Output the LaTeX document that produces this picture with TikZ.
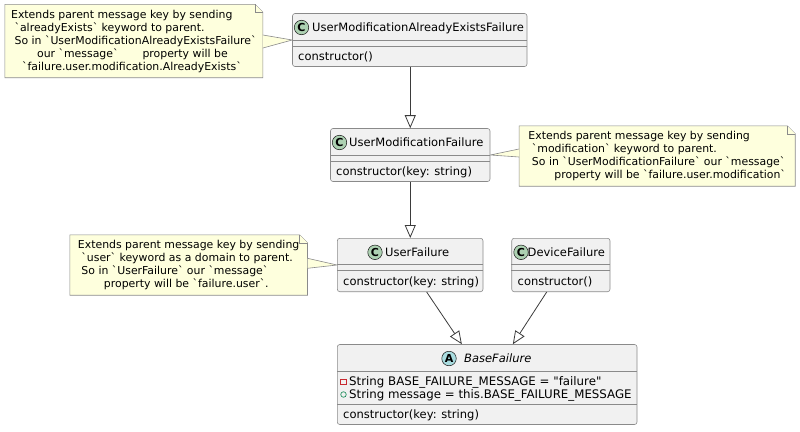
\documentclass[tikz,border=0pt]{standalone}
\usepackage{fontspec}
\newfontfamily\umlfont{DejaVu Sans}
\usetikzlibrary{arrows.meta, backgrounds}

\definecolor{classbg}{HTML}{F1F1F1}
\definecolor{umlline}{HTML}{181818}
\definecolor{boxline}{HTML}{8A8A8A}
\definecolor{notebg}{HTML}{FEFFDD}
\definecolor{spotC}{HTML}{ADD1B2}
\definecolor{spotA}{HTML}{A9DCDF}
\definecolor{privred}{HTML}{C82930}
\definecolor{pubgreen}{HTML}{038048}

\tikzset{
  umlclass/.style={draw=boxline, fill=classbg, line width=0.6pt, rounded corners=2.5pt, inner sep=0pt},
  compline/.style={draw=boxline, line width=0.6pt},
  spot/.style={circle, draw=umlline, line width=0.5pt, fill=spotC, minimum size=14.5pt, inner sep=0pt, font=\umlfont\bfseries\fontsize{11}{11}\selectfont},
  cname/.style={anchor=base west, inner sep=0pt, font=\umlfont\fontsize{11.5}{13}\selectfont},
  member/.style={anchor=base west, inner sep=0pt, font=\umlfont\fontsize{11.5}{13}\selectfont},
  privicon/.style={rectangle, draw=privred, line width=0.6pt, minimum size=5.5pt, inner sep=0pt},
  pubicon/.style={circle, draw=pubgreen, line width=0.6pt, minimum size=5.5pt, inner sep=0pt},
  umlnote/.style={inner xsep=5.5pt, inner ysep=0pt, align=left, font=\umlfont\fontsize{10.9}{13}\selectfont},
  notebody/.style={draw=boxline, fill=notebg, line width=0.6pt},
  inherit/.style={draw=umlline!85, line width=0.8pt, -{Triangle[open, length=13pt, width=11pt]}},
}

\begin{document}
\begin{tikzpicture}[x=1pt, y=-1pt]
\useasboundingbox (0,0) rectangle (800,431);

% classes
\node[umlclass, minimum width=234.5pt, minimum height=53pt] (umaef) at (409.75,40) {};
\draw[compline] (umaef.west |- 0,40.5) -- (umaef.east |- 0,40.5);
\draw[compline] (umaef.west |- 0,46.5) -- (umaef.east |- 0,46.5);
\node[spot] (umaefspot) at (301.5,27.5) {C};
\node[cname] (umaefname) at (312,31.7) {UserModificationAlreadyExistsFailure};
\node[member] (umaefctor) at (298,60.6) {constructor()};

\node[umlclass, minimum width=159.5pt, minimum height=53pt] (umf) at (410.25,155) {};
\draw[compline] (umf.west |- 0,155) -- (umf.east |- 0,155);
\draw[compline] (umf.west |- 0,161) -- (umf.east |- 0,161);
\node[spot] (umfspot) at (339.5,142.5) {C};
\node[cname] (umfname) at (349,146.7) {UserModificationFailure};
\node[member] (umfctor) at (336,175.3) {constructor(key: string)};

\node[umlclass, minimum width=145.7pt, minimum height=53.4pt] (userf) at (410.15,265) {};
\draw[compline] (userf.west |- 0,264.5) -- (userf.east |- 0,264.5);
\draw[compline] (userf.west |- 0,270.5) -- (userf.east |- 0,270.5);
\node[spot] (userfspot) at (375,252.3) {C};
\node[cname] (userfname) at (385,256.5) {UserFailure};
\node[member] (userfctor) at (343,285.2) {constructor(key: string)};

\node[umlclass, minimum width=98.3pt, minimum height=53.4pt] (devf) at (560.85,265) {};
\draw[compline] (devf.west |- 0,264.5) -- (devf.east |- 0,264.5);
\draw[compline] (devf.west |- 0,270.5) -- (devf.east |- 0,270.5);
\node[spot] (devfspot) at (521,252.3) {C};
\node[cname] (devfname) at (527.5,256.5) {DeviceFailure};
\node[member] (devfctor) at (517.5,285.2) {constructor()};

\node[umlclass, minimum width=299.7pt, minimum height=80pt] (base) at (487.15,384.5) {};
\draw[compline] (base.west |- 0,371.5) -- (base.east |- 0,371.5);
\draw[compline] (base.west |- 0,404.5) -- (base.east |- 0,404.5);
\node[spot, fill=spotA] (basespot) at (449,358.5) {A};
\node[cname, font=\umlfont\itshape\fontsize{11.5}{13}\selectfont] (basename) at (464,362.7) {BaseFailure};
\node[privicon] (privmark) at (343.5,381.7) {};
\node[member, font=\umlfont\fontsize{11.8}{13}\selectfont] (basemsgconst) at (349,385.9) {String BASE\_FAILURE\_MESSAGE = "failure"};
\node[pubicon] (pubmark) at (343.5,394.5) {};
\node[member, font=\umlfont\fontsize{11.8}{13}\selectfont] (basemsg) at (349,398.7) {String message = this.BASE\_FAILURE\_MESSAGE};
\node[member] (basector) at (343,418.6) {constructor(key: string)};

% notes
\node[umlnote, minimum width=257.7pt, minimum height=73pt] (n1) at (133.85,41) {Extends parent message key by sending\\
\hspace*{3.5pt}`alreadyExists` keyword to parent.\\
\hspace*{3.5pt}So in `UserModificationAlreadyExistsFailure`\\
\hspace*{26pt}our `message`\hspace*{24pt}property will be\\
\hspace*{11pt}`failure.user.modification.AlreadyExists`};
\node[umlnote, minimum width=275.7pt, minimum height=60pt] (n2) at (657.15,156) {Extends parent message key by sending\\
\hspace*{3.5pt}`modification` keyword to parent.\\
\hspace*{3.5pt}So in `UserModificationFailure` our `message`\\
\hspace*{26pt}property will be `failure.user.modification`};
\node[umlnote, minimum width=237.3pt, minimum height=60pt] (n3) at (188.65,265) {Extends parent message key by sending\\
\hspace*{3.5pt}`user` keyword as a domain to parent.\\
\hspace*{3.5pt}So in `UserFailure` our `message`\\
\hspace*{26pt}property will be `failure.user`.};

\begin{scope}[on background layer]
\draw[notebody] (n1.south west) -- (n1.north west) -- ([xshift=-8pt]n1.north east) -- ([yshift=-8pt]n1.north east) -- (n1.south east) -- cycle;
\draw[notebody] ([xshift=-8pt]n1.north east) -- ([xshift=-8pt,yshift=-8pt]n1.north east) -- ([yshift=-8pt]n1.north east);
\draw[notebody] (n2.south west) -- (n2.north west) -- ([xshift=-8pt]n2.north east) -- ([yshift=-8pt]n2.north east) -- (n2.south east) -- cycle;
\draw[notebody] ([xshift=-8pt]n2.north east) -- ([xshift=-8pt,yshift=-8pt]n2.north east) -- ([yshift=-8pt]n2.north east);
\draw[notebody] (n3.south west) -- (n3.north west) -- ([xshift=-8pt]n3.north east) -- ([yshift=-8pt]n3.north east) -- (n3.south east) -- cycle;
\draw[notebody] ([xshift=-8pt]n3.north east) -- ([xshift=-8pt,yshift=-8pt]n3.north east) -- ([yshift=-8pt]n3.north east);
% note links
\draw[notebody] ([yshift=6pt]n1.east) -- (umaef.west) -- ([yshift=-7pt]n1.east);
\draw[notebody] ([yshift=7pt]n2.west) -- (umf.east) -- ([yshift=-1pt]n2.west);
\draw[notebody] ([yshift=6.7pt]n3.east) -- (userf.west) -- ([yshift=-3.3pt]n3.east);
\end{scope}

% inheritance
\draw[inherit] (umaef.south -| umf.north) -- (umf.north);
\draw[inherit] (umf.south) -- (umf.south |- userf.north);
\draw[inherit] ([xshift=16.5pt]userf.south) -- ([xshift=-25.3pt]base.north);
\draw[inherit] ([xshift=-14.15pt]devf.south) -- ([xshift=25.7pt]base.north);
\end{tikzpicture}
\end{document}
